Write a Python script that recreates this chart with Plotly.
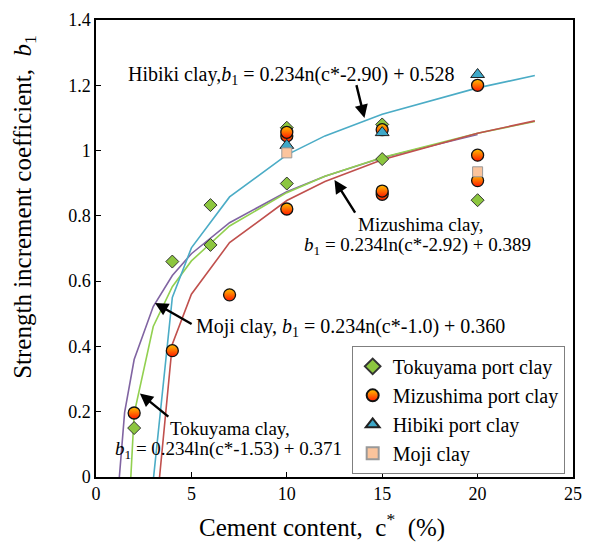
import plotly.graph_objects as go

# ---- measured points ----
toku_c = [2, 4, 6, 6, 10, 10, 15, 15, 20]
toku_b = [0.150, 0.660, 0.711, 0.833, 0.899, 1.070, 0.974, 1.080, 0.848]

mizu_c = [2, 4, 7, 10, 10, 10, 15, 15, 15, 20, 20, 20]
mizu_b = [0.196, 0.387, 0.558, 0.821, 1.045, 1.056, 0.866, 0.876, 1.064, 0.986, 0.908, 1.200]

hibi_c = [10, 15, 20]
hibi_b = [1.016, 1.055, 1.233]

moji_c = [10, 20]
moji_b = [0.993, 0.935]

# ---- fitted curves (b1 = 0.234 ln(c* - c0) + k), tabulated ----
fit_moji_c = [1.2, 1.5, 2, 3, 4, 5, 7, 10, 12, 15, 20]
fit_moji_b = [-0.017, 0.198, 0.360, 0.522, 0.617, 0.684, 0.779, 0.874, 0.921, 0.978, 1.049]

fit_toku_c = [1.6, 2, 3, 4, 5, 7, 10, 12, 15, 20, 23]
fit_toku_b = [-0.251, 0.194, 0.461, 0.583, 0.662, 0.769, 0.871, 0.921, 0.979, 1.053, 1.089]

fit_hibi_c = [3, 4, 5, 7, 10, 12, 15, 20, 23]
fit_hibi_b = [-0.011, 0.550, 0.702, 0.858, 0.987, 1.045, 1.111, 1.192, 1.230]

fit_mizu_c = [3, 4, 5, 7, 10, 12, 15, 20, 23]
fit_mizu_b = [-0.202, 0.407, 0.560, 0.718, 0.847, 0.905, 0.972, 1.053, 1.091]

FONT = "Liberation Serif"
B1 = "<i>b</i><sub>1</sub>"

fig = go.Figure()

curve_specs = [
    (fit_moji_c, fit_moji_b, "#8064a2"),
    (fit_toku_c, fit_toku_b, "#92d050"),
    (fit_hibi_c, fit_hibi_b, "#4bacc6"),
    (fit_mizu_c, fit_mizu_b, "#c0504d"),
]
for cx, by, col in curve_specs:
    fig.add_trace(go.Scatter(x=cx, y=by, mode="lines", showlegend=False,
                             line=dict(color=col, width=1.6), hoverinfo="skip"))

fig.add_trace(go.Scatter(
    x=toku_c, y=toku_b, mode="markers", name="Tokuyama port clay",
    marker=dict(symbol="diamond", size=10, color="#8cc63f",
                line=dict(color="#333333", width=1))))
fig.add_trace(go.Scatter(
    x=mizu_c, y=mizu_b, mode="markers", name="Mizushima port clay",
    marker=dict(symbol="circle", size=12, color="#ffc000",
                gradient=dict(type="vertical", color="#ff1a00"),
                line=dict(color="#111111", width=1.3))))
fig.add_trace(go.Scatter(
    x=hibi_c, y=hibi_b, mode="markers", name="Hibiki port clay",
    marker=dict(symbol="triangle-up", size=12, color="#3ea8c8",
                line=dict(color="#222222", width=1))))
fig.add_trace(go.Scatter(
    x=moji_c, y=moji_b, mode="markers", name="Moji clay",
    marker=dict(symbol="square", size=10, color="#fbc49c",
                line=dict(color="#999999", width=1))))

# equation labels
labels = [
    (10.24, 1.229, "Hibiki clay," + B1 + " = 0.234n(c*-2.90) + 0.528", 20),
    (17.03, 0.775, "Mizushima clay,", 19),
    (16.86, 0.708, B1 + " = 0.234ln(c*-2.92) + 0.389", 19),
    (13.36, 0.459, "Moji clay, " + B1 + " = 0.234n(c*-1.0) + 0.360", 20),
    (7.01, 0.149, "Tokuyama clay,", 19),
    (6.96, 0.082, B1 + " = 0.234ln(c*-1.53) + 0.371", 19),
]
for lx, ly, txt, fs in labels:
    fig.add_annotation(x=lx, y=ly, xref="x", yref="y", text=txt, showarrow=False,
                       xanchor="center", yanchor="middle",
                       font=dict(family=FONT, size=fs, color="black"))

# arrows: (head_x, head_y, tail_x, tail_y)
arrows = [
    (14.07, 1.100, 13.63, 1.205),
    (12.50, 0.910, 13.63, 0.805),
    (3.09, 0.533, 5.09, 0.466),
    (2.30, 0.256, 3.87, 0.181),
]
for hx, hy, tx, ty in arrows:
    fig.add_annotation(x=hx, y=hy, ax=tx, ay=ty, xref="x", yref="y",
                       axref="x", ayref="y", text="", showarrow=True,
                       arrowhead=2, arrowsize=1.1, arrowwidth=2.4,
                       arrowcolor="black")

# axis titles
fig.add_annotation(x=0.473, y=-0.107, xref="paper", yref="paper",
                   text="Cement content,  c<sup>*</sup>  (%)", showarrow=False,
                   xanchor="center", yanchor="middle",
                   font=dict(family=FONT, size=25, color="black"))
fig.add_annotation(x=-0.149, y=0.591, xref="paper", yref="paper",
                   text="Strength increment coefficient,  " + B1, showarrow=False,
                   textangle=-90, xanchor="center", yanchor="middle",
                   font=dict(family=FONT, size=25, color="black"))

axis_common = dict(showline=True, mirror=True, linecolor="black", linewidth=1.5,
                   ticks="inside", ticklen=5, tickcolor="black", tickwidth=1,
                   showgrid=False, zeroline=False,
                   tickfont=dict(family=FONT, size=18, color="black"))

fig.update_xaxes(range=[0, 25], dtick=5, tick0=0, **axis_common)
fig.update_yaxes(range=[0, 1.4], dtick=0.2, tick0=0, **axis_common)

fig.update_layout(
    width=592, height=545,
    margin=dict(l=96, r=18, t=10, b=68),
    paper_bgcolor="white", plot_bgcolor="white",
    font=dict(family=FONT, color="black"),
    legend=dict(x=0.536, y=0.287, xanchor="left", yanchor="top",
                bgcolor="white", bordercolor="#7f7f7f", borderwidth=1,
                font=dict(family=FONT, size=20, color="black"),
                tracegroupgap=0, itemsizing="constant"),
)

fig.write_html("out.html")
